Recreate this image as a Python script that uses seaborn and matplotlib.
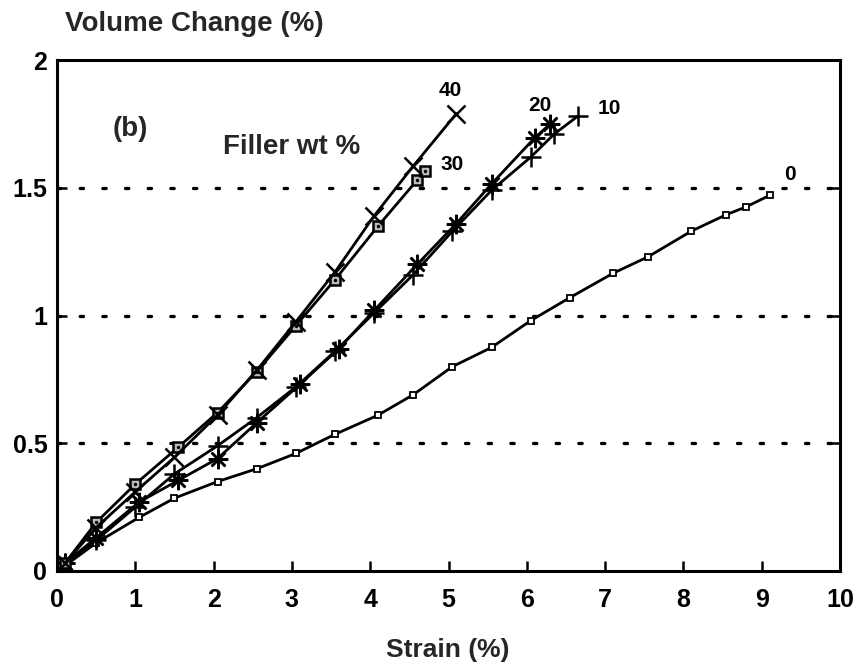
import matplotlib
matplotlib.use("Agg")
import matplotlib.pyplot as plt
import seaborn as sns

sns.set_theme(style="white")
plt.rcParams["font.family"] = ["Liberation Sans", "DejaVu Sans"]

# Volume change vs. strain for each filler loading (wt %)
strain_0 = [0.1, 0.5, 1.05, 1.5, 2.05, 2.55, 3.05, 3.55, 4.1, 4.55, 5.05, 5.55, 6.05, 6.55, 7.1, 7.55, 8.1, 8.55, 8.8, 9.1]
volume_0 = [0.02, 0.11, 0.21, 0.285, 0.35, 0.40, 0.46, 0.535, 0.61, 0.69, 0.80, 0.875, 0.98, 1.07, 1.165, 1.23, 1.33, 1.395, 1.425, 1.47]

strain_10 = [0.1, 0.5, 1.0, 1.5, 2.05, 2.55, 3.05, 3.55, 4.05, 4.55, 5.05, 5.55, 6.05, 6.35, 6.65]
volume_10 = [0.03, 0.12, 0.25, 0.38, 0.49, 0.60, 0.72, 0.86, 1.01, 1.16, 1.33, 1.49, 1.62, 1.71, 1.78]

strain_20 = [0.1, 0.5, 1.05, 1.55, 2.05, 2.55, 3.1, 3.6, 4.05, 4.6, 5.1, 5.55, 6.1, 6.3]
volume_20 = [0.03, 0.13, 0.27, 0.355, 0.44, 0.58, 0.73, 0.87, 1.02, 1.20, 1.36, 1.515, 1.695, 1.75]

strain_30 = [0.1, 0.5, 1.0, 1.55, 2.05, 2.55, 3.05, 3.55, 4.1, 4.6, 4.7]
volume_30 = [0.03, 0.19, 0.34, 0.485, 0.62, 0.78, 0.96, 1.14, 1.35, 1.53, 1.565]

strain_40 = [0.1, 0.5, 1.0, 1.5, 2.05, 2.55, 3.05, 3.55, 4.05, 4.55, 5.1]
volume_40 = [0.03, 0.17, 0.31, 0.445, 0.61, 0.785, 0.975, 1.17, 1.39, 1.585, 1.79]

# Curve labels: text, strain, volume change
label_text = ["40", "30", "20", "10", "0"]
label_x = [5.02, 5.05, 6.17, 7.06, 9.36]
label_y = [1.88, 1.59, 1.82, 1.81, 1.55]

x_ticks = list(range(0, 11))
y_ticks = [0, 0.5, 1, 1.5, 2]
y_tick_labels = ["0", "0.5", "1", "1.5", "2"]
grid_levels = [0.5, 1.0, 1.5]

W, H = 861, 668
fig = plt.figure(figsize=(W / 100, H / 100), dpi=100)
left, right, top, bottom = 57, 840, 60, 571
ax = fig.add_axes([left / W, 1 - bottom / H, (right - left) / W, (bottom - top) / H])

# dotted reference lines
for g in grid_levels:
    ax.axhline(g, color="black", lw=2.4, ls=(0, (1, 5.8)), dash_capstyle="round", zorder=1)

lw = 2.0
k = "black"
common = dict(ax=ax, color=k, lw=lw, sort=False, markeredgecolor=k, zorder=3)
sns.lineplot(x=strain_0, y=volume_0, marker="s", markersize=4.5,
             markerfacecolor="white", markeredgewidth=1.3, **common)
sns.lineplot(x=strain_10, y=volume_10, marker="+", markersize=15,
             markeredgewidth=1.8, **common)
sns.lineplot(x=strain_20, y=volume_20, marker=(8, 2, 0), markersize=14,
             markeredgewidth=1.8, **common)
sns.lineplot(x=strain_30, y=volume_30, marker="s", markersize=7.5,
             markerfacecolor="#bbbbbb", markeredgewidth=1.8, **common)
sns.scatterplot(x=strain_30, y=volume_30, ax=ax, color=k, marker="o", s=6,
                linewidth=0, zorder=4)
sns.lineplot(x=strain_40, y=volume_40, marker="x", markersize=13,
             markeredgewidth=1.8, **common)

for t, x, y in zip(label_text, label_x, label_y):
    ax.text(x, y, t, fontsize=15, fontweight="bold", ha="center", va="center", color=k)

ax.text(0.93, 1.73, "(b)", fontsize=20, fontweight="bold", ha="center", va="center")
ax.text(3.0, 1.66, "Filler wt %", fontsize=20, fontweight="bold", ha="center", va="center")

ax.set_xlim(0, 10)
ax.set_ylim(0, 2)
ax.set_xticks(x_ticks)
ax.set_xticklabels([str(v) for v in x_ticks])
ax.set_yticks(y_ticks)
ax.set_yticklabels(y_tick_labels)
for lab in ax.get_xticklabels() + ax.get_yticklabels():
    lab.set_fontweight("bold")
ax.tick_params(axis="x", direction="in", length=7, width=1.8, pad=12,
               labelsize=18, colors="black", bottom=True, top=False)
ax.tick_params(axis="y", direction="in", length=7, width=1.8, pad=7,
               labelsize=18, colors="black", left=True, right=True)
for s in ax.spines.values():
    s.set_visible(True)
    s.set_color("black")
    s.set_linewidth(2.2)
ax.set_xlabel("")
ax.set_ylabel("")

fig.text(65 / W, 1 - 24 / H, "Volume Change (%)", fontsize=20, fontweight="bold",
         ha="left", va="center")
fig.text(448 / W, 1 - 650 / H, "Strain (%)", fontsize=19, fontweight="bold",
         ha="center", va="center")

fig.savefig("out.png", dpi=100, facecolor="white")
